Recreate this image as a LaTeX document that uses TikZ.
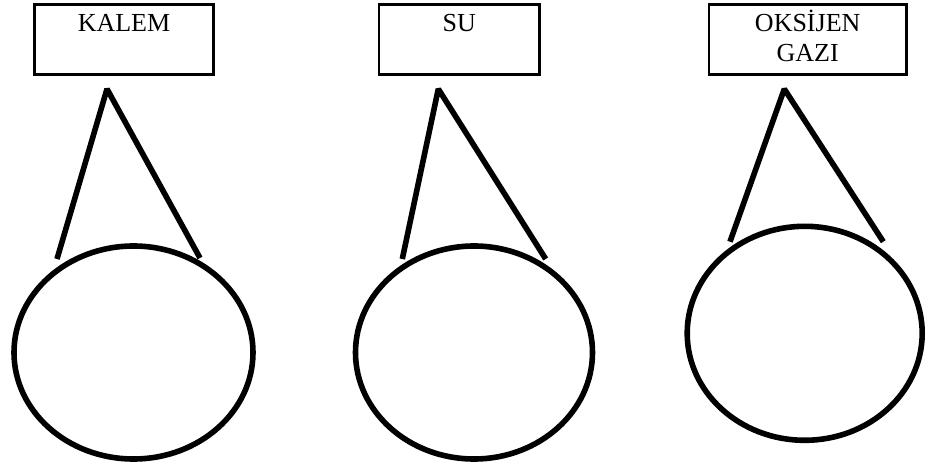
\documentclass[tikz,border=0pt]{standalone}
\usepackage{fontspec}
\setmainfont{Liberation Serif}
\usetikzlibrary{shapes.geometric}
\begin{document}
\begin{tikzpicture}[x=1pt,y=-1pt,
  box/.style 2 args={draw, line width=2.7pt, rectangle, inner sep=0pt, minimum width=#1,
    text height=#2, text depth=74.7pt-4.3pt-#2, anchor=base,
    font=\fontsize{26}{30}\selectfont, align=center},
  blob/.style={draw, ellipse, line width=5.6pt, inner sep=0pt},
  cone/.style={line width=5.6pt, line join=bevel}]
\useasboundingbox (0,0) rectangle (930,468);
% boxes
\node[box={179.4pt}{27.4pt}] (b1) at (124,31.7) {KALEM};
\node[box={160.7pt}{27.4pt}] (b2) at (459.3,31.7) {SU};
\node[box={197.3pt}{57.4pt}] (b3) at (807.7,61.7) {OKSİJEN\\GAZI};
% ellipses
\node[blob, minimum width=239pt, minimum height=213pt] (e1) at (133.5,352.5) {};
\node[blob, minimum width=237pt, minimum height=213pt] (e2) at (474,352.5) {};
\node[blob, minimum width=235pt, minimum height=214pt] (e3) at (804.7,333.3) {};
% cone points
\coordinate (t1) at (107,89);
\coordinate (l1) at (57,259);
\coordinate (r1) at (200,258);
\coordinate (t2) at (438.3,89);
\coordinate (l2) at (402.3,259);
\coordinate (r2) at (545.7,259);
\coordinate (t3) at (784.3,89);
\coordinate (l3) at (730,241.7);
\coordinate (r3) at (883.3,241.7);
\draw[cone] (l1) -- (t1) -- (r1);
\draw[cone] (l2) -- (t2) -- (r2);
\draw[cone] (l3) -- (t3) -- (r3);
\end{tikzpicture}
\end{document}
